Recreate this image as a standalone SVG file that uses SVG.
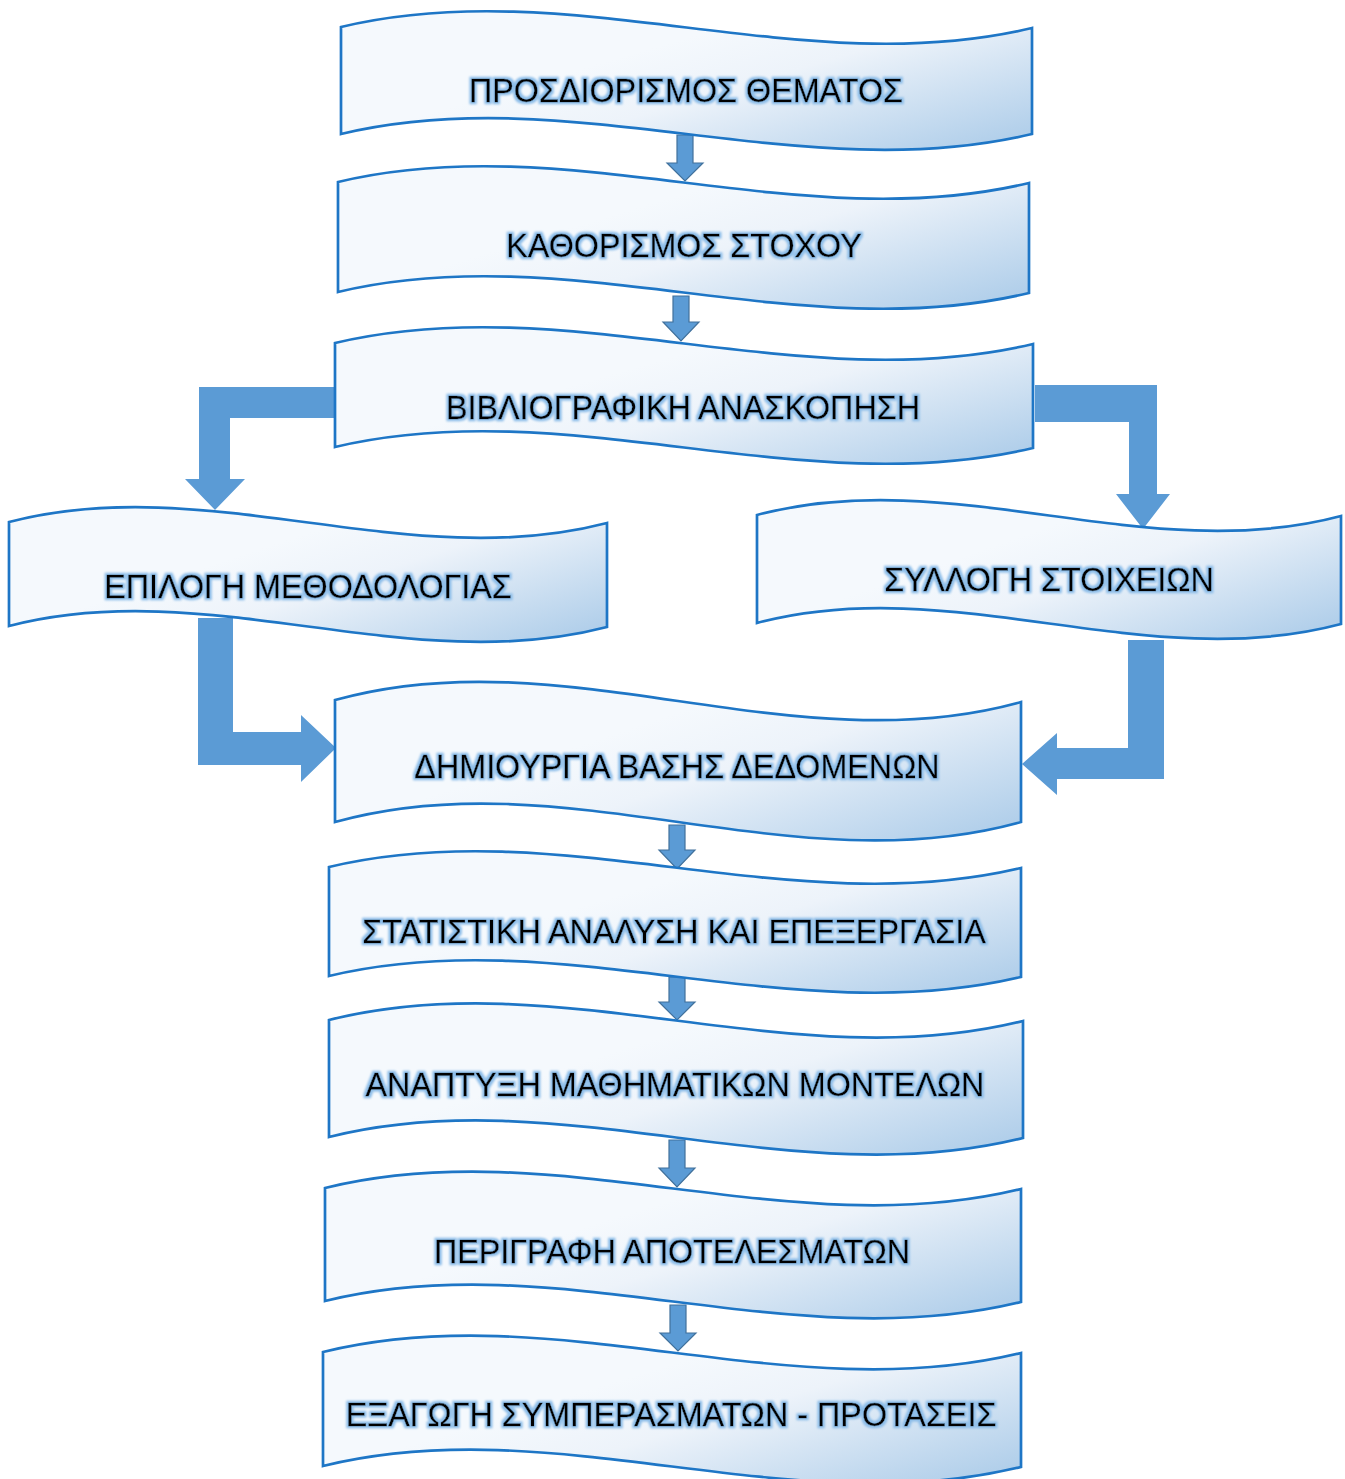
<svg xmlns="http://www.w3.org/2000/svg" width="1345" height="1479" viewBox="0 0 1345 1479">
<defs>
<linearGradient id="g" x1="0.43" y1="0.294" x2="1.147" y2="0.785">
<stop offset="0" stop-color="#f5f9fd"/>
<stop offset="0.3" stop-color="#edf3fa"/>
<stop offset="1" stop-color="#a9cae8"/>
</linearGradient>
<filter id="glow" x="-5%" y="-40%" width="110%" height="180%">
<feMorphology in="SourceAlpha" operator="dilate" radius="1.8" result="d"/>
<feGaussianBlur in="d" stdDeviation="1.3" result="b"/>
<feFlood flood-color="#8cbde9" flood-opacity="1"/>
<feComposite in2="b" operator="in" result="c"/>
<feMerge><feMergeNode in="c"/><feMergeNode in="SourceGraphic"/></feMerge>
</filter>
</defs>
<style>
.s{fill:url(#g);stroke:#1e76c6;stroke-width:2.7;stroke-linejoin:miter}
.t{font-family:"Liberation Sans",Arial,sans-serif;font-size:32.3px;fill:#000;stroke:#000;stroke-width:0.3;text-anchor:middle;filter:url(#glow)}
.a{fill:#5b9bd5;stroke:#41719c;stroke-width:1.2}
.b{fill:#5b9bd5}
</style>
<g id="connectors">
<path class="a" d="M677,135 H693 V163 H703 L685,181 L667,163 H677 Z"/>
<path class="a" d="M673,296 H689 V322 H699 L681,341 L663,322 H673 Z"/>
<path class="a" d="M669,825 H685 V850 H695 L677,869 L659,850 H669 Z"/>
<path class="a" d="M669,977 H685 V1002 H695 L677,1020 L659,1002 H669 Z"/>
<path class="a" d="M669,1140 H685 V1168 H695 L677,1187 L659,1168 H669 Z"/>
<path class="a" d="M670,1305 H686 V1333 H696 L678,1351 L660,1333 H670 Z"/>
<path class="b" d="M334,387 V418 H230 V479 H245 L215,510 L185,479 H199 V387 Z"/>
<path class="b" d="M1035,385 H1157 V494 H1170 L1143,529 L1116,494 H1129 V422 H1035 Z"/>
<path class="b" d="M198,618 H233 V732 H301 V715 L336,748 L301,782 V765 H198 Z"/>
<path class="b" d="M1128,640 H1164 V779 H1057 V795 L1022,764 L1057,733 V748 H1128 Z"/>
</g>
<g id="n1"><path class="s" d="M341,27 C571,-28 802,83 1032,28 L1032,134 C802,189 571,79 341,134 Z"/><text class="t" x="686" y="102">ΠΡΟΣΔΙΟΡΙΣΜΟΣ ΘΕΜΑΤΟΣ</text></g>
<g id="n2"><path class="s" d="M338,182 C568,127 799,238 1029,183 L1029,293 C799,348 568,237 338,292 Z"/><text class="t" x="684" y="257">ΚΑΘΟΡΙΣΜΟΣ ΣΤΟΧΟΥ</text></g>
<g id="n3"><path class="s" d="M335,343 C568,288 800,399 1033,344 L1033,448 C800,503 568,392 335,447 Z"/><text class="t" x="683" y="419">ΒΙΒΛΙΟΓΡΑΦΙΚΗ ΑΝΑΣΚΟΠΗΣΗ</text></g>
<g id="n4"><path class="s" d="M9,522 C208,470 408,575 607,523 L607,627 C408,679 208,574 9,626 Z"/><text class="t" x="308" y="598">ΕΠΙΛΟΓΗ ΜΕΘΟΔΟΛΟΓΙΑΣ</text></g>
<g id="n5"><path class="s" d="M757,515 C952,463 1146,568 1341,516 L1341,624 C1146,676 952,571 757,623 Z"/><text class="t" x="1049" y="591">ΣΥΛΛΟΓΗ ΣΤΟΙΧΕΙΩΝ</text></g>
<g id="n6"><path class="s" d="M335,700 C564,636 792,766 1021,702 L1021,822 C792,886 564,758 335,822 Z"/><text class="t" x="677" y="778">ΔΗΜΙΟΥΡΓΙΑ ΒΑΣΗΣ ΔΕΔΟΜΕΝΩΝ</text></g>
<g id="n7"><path class="s" d="M329,867 C560,812 790,923 1021,868 L1021,977 C790,1032 560,921 329,976 Z"/><text class="t" x="674" y="943">ΣΤΑΤΙΣΤΙΚΗ ΑΝΑΛΥΣΗ ΚΑΙ ΕΠΕΞΕΡΓΑΣΙΑ</text></g>
<g id="n8"><path class="s" d="M329,1020 C560,962 792,1079 1023,1021 L1023,1138 C792,1196 560,1079 329,1137 Z"/><text class="t" x="675" y="1096">ΑΝΑΠΤΥΞΗ ΜΑΘΗΜΑΤΙΚΩΝ ΜΟΝΤΕΛΩΝ</text></g>
<g id="n9"><path class="s" d="M325,1188 C557,1131 789,1246 1021,1189 L1021,1302 C789,1359 557,1244 325,1301 Z"/><text class="t" x="672" y="1263">ΠΕΡΙΓΡΑΦΗ ΑΠΟΤΕΛΕΣΜΑΤΩΝ</text></g>
<g id="n10"><path class="s" d="M323,1352 C556,1295 788,1410 1021,1353 L1021,1467 C788,1524 556,1409 323,1466 Z"/><text class="t" x="671" y="1426">ΕΞΑΓΩΓΗ ΣΥΜΠΕΡΑΣΜΑΤΩΝ - ΠΡΟΤΑΣΕΙΣ</text></g>
</svg>
